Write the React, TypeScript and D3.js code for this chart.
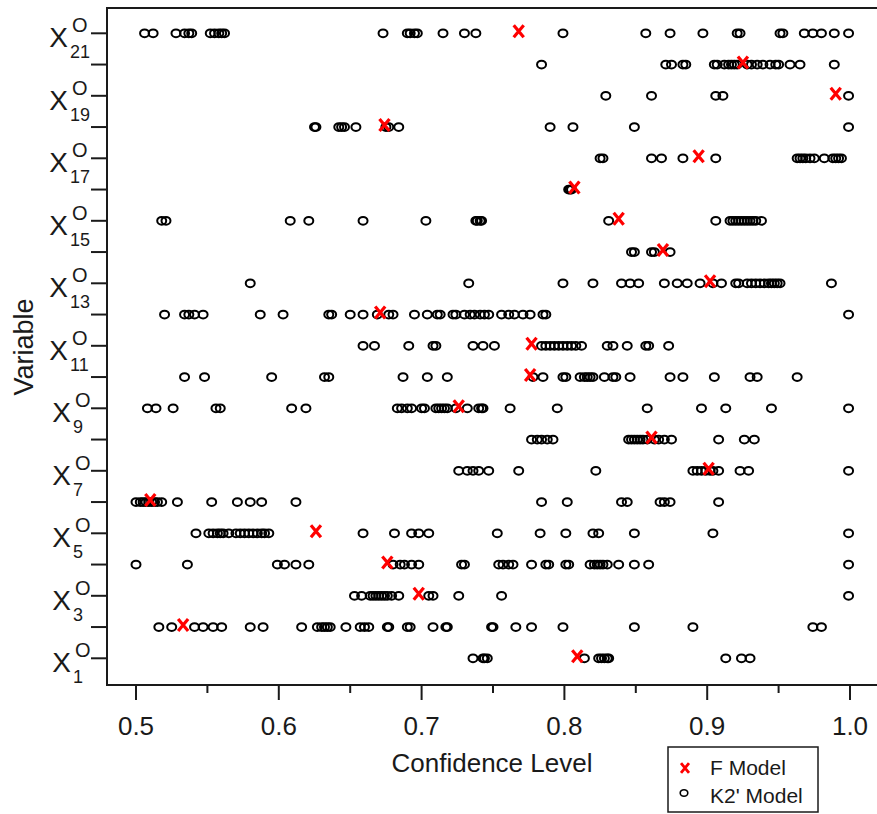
import React from 'react';
import * as d3 from 'd3';

// variables X1..X21, only odd ones carry a label
const variables = d3.range(1, 22);
const labelledVariables = variables.filter((v) => v % 2 === 1);

const xTicks = [0.5, 0.6, 0.7, 0.8, 0.9, 1.0];
const xMinorTicks = [0.55, 0.65, 0.75, 0.85, 0.95];

// F model confidence, one per variable (X1..X21)
const fModel = [
	0.809, 0.533, 0.698, 0.676, 0.626, 0.51, 0.901, 0.861, 0.726, 0.776, 0.777,
	0.671, 0.902, 0.869, 0.838, 0.807, 0.894, 0.674, 0.99, 0.925, 0.768,
];

// K2' model confidence levels, one list per variable (X1..X21)
const k2Model = [
	[0.736, 0.743, 0.744, 0.746, 0.814, 0.824, 0.826, 0.828, 0.83, 0.831, 0.913, 0.924, 0.93],
	[0.516, 0.525, 0.541, 0.547, 0.554, 0.56, 0.58, 0.589, 0.616, 0.627, 0.63, 0.632, 0.634, 0.636, 0.647, 0.657, 0.66, 0.663, 0.676, 0.677, 0.69, 0.692, 0.708, 0.717, 0.718, 0.749, 0.75, 0.766, 0.777, 0.799, 0.849, 0.89, 0.974, 0.98],
	[0.653, 0.658, 0.664, 0.666, 0.668, 0.67, 0.672, 0.674, 0.676, 0.679, 0.684, 0.705, 0.708, 0.726, 0.756, 0.999],
	[0.5, 0.536, 0.599, 0.604, 0.612, 0.621, 0.68, 0.685, 0.688, 0.693, 0.698, 0.728, 0.73, 0.754, 0.757, 0.761, 0.764, 0.777, 0.787, 0.789, 0.801, 0.803, 0.818, 0.821, 0.823, 0.825, 0.827, 0.83, 0.838, 0.849, 0.859, 0.999],
	[0.542, 0.551, 0.554, 0.557, 0.559, 0.561, 0.565, 0.57, 0.573, 0.576, 0.579, 0.582, 0.585, 0.588, 0.59, 0.593, 0.659, 0.681, 0.693, 0.698, 0.705, 0.753, 0.783, 0.801, 0.82, 0.824, 0.849, 0.904, 0.999],
	[0.5, 0.503, 0.505, 0.507, 0.509, 0.511, 0.513, 0.515, 0.518, 0.529, 0.553, 0.571, 0.58, 0.588, 0.612, 0.784, 0.802, 0.84, 0.844, 0.867, 0.87, 0.874, 0.908],
	[0.726, 0.732, 0.736, 0.74, 0.747, 0.768, 0.822, 0.89, 0.893, 0.896, 0.899, 0.902, 0.904, 0.908, 0.923, 0.929, 0.999],
	[0.777, 0.781, 0.784, 0.788, 0.792, 0.845, 0.847, 0.849, 0.851, 0.853, 0.855, 0.858, 0.863, 0.866, 0.87, 0.875, 0.908, 0.926, 0.933],
	[0.508, 0.514, 0.526, 0.556, 0.559, 0.609, 0.619, 0.683, 0.686, 0.69, 0.693, 0.7, 0.702, 0.71, 0.712, 0.714, 0.716, 0.718, 0.724, 0.732, 0.74, 0.742, 0.743, 0.762, 0.795, 0.858, 0.896, 0.913, 0.945, 0.999],
	[0.534, 0.548, 0.595, 0.632, 0.635, 0.687, 0.704, 0.718, 0.778, 0.785, 0.799, 0.801, 0.811, 0.814, 0.816, 0.818, 0.82, 0.828, 0.834, 0.836, 0.846, 0.874, 0.883, 0.905, 0.93, 0.935, 0.963],
	[0.659, 0.667, 0.691, 0.708, 0.71, 0.736, 0.743, 0.751, 0.784, 0.787, 0.79, 0.793, 0.796, 0.799, 0.802, 0.805, 0.808, 0.812, 0.83, 0.834, 0.844, 0.857, 0.859, 0.873],
	[0.52, 0.534, 0.537, 0.541, 0.547, 0.587, 0.603, 0.635, 0.637, 0.65, 0.659, 0.669, 0.677, 0.68, 0.695, 0.704, 0.711, 0.713, 0.722, 0.724, 0.73, 0.734, 0.737, 0.741, 0.744, 0.747, 0.756, 0.761, 0.765, 0.771, 0.776, 0.785, 0.787, 0.999],
	[0.58, 0.733, 0.799, 0.82, 0.84, 0.846, 0.852, 0.87, 0.879, 0.886, 0.895, 0.904, 0.91, 0.92, 0.922, 0.928, 0.931, 0.934, 0.937, 0.94, 0.943, 0.945, 0.947, 0.949, 0.951, 0.987],
	[0.847, 0.849, 0.861, 0.863, 0.874],
	[0.518, 0.521, 0.608, 0.621, 0.659, 0.703, 0.738, 0.739, 0.741, 0.742, 0.831, 0.906, 0.916, 0.918, 0.92, 0.922, 0.924, 0.926, 0.928, 0.93, 0.932, 0.934, 0.938],
	[0.803, 0.804, 0.805],
	[0.825, 0.827, 0.861, 0.868, 0.883, 0.906, 0.963, 0.965, 0.967, 0.969, 0.972, 0.975, 0.982, 0.988, 0.99, 0.992, 0.994],
	[0.625, 0.626, 0.642, 0.644, 0.646, 0.654, 0.675, 0.677, 0.684, 0.79, 0.806, 0.849, 0.999],
	[0.829, 0.861, 0.906, 0.911, 0.999],
	[0.784, 0.871, 0.875, 0.883, 0.885, 0.905, 0.907, 0.912, 0.915, 0.917, 0.919, 0.921, 0.928, 0.931, 0.935, 0.939, 0.944, 0.948, 0.95, 0.958, 0.965, 0.989],
	[0.506, 0.512, 0.528, 0.534, 0.537, 0.539, 0.552, 0.555, 0.558, 0.56, 0.562, 0.673, 0.69, 0.692, 0.695, 0.697, 0.715, 0.73, 0.738, 0.799, 0.857, 0.874, 0.897, 0.921, 0.923, 0.951, 0.953, 0.968, 0.974, 0.98, 0.989, 0.999],
];

const FONT = '"Liberation Sans", Arial, sans-serif';
const INK = '#1a1a1a';
const crossPath = 'M-5,-6L5,6M5,-6L-5,6';

const App = () => {
	const width = 877,
		height = 814,
		frame = { left: 107, right: 880, top: 8, bottom: 685 },
		x = d3.scaleLinear().domain([0.5, 1]).range([136, 850]),
		y = d3.scaleLinear().domain([1, 21]).range([658.3, 33.3]);

	const points = k2Model.flatMap((row, i) => row.map((v) => ({ v, variable: variables[i] })));

	return (
		<svg
			width={width}
			height={height}
			style={{ position: 'absolute', left: 0, top: 0, background: '#fff' }}
			fontFamily={FONT}
		>
			{/* frame */}
			<path
				d={`M${frame.right},${frame.top}H${frame.left}V${frame.bottom}H${frame.right}`}
				fill="none"
				stroke={INK}
				strokeWidth={2}
			/>

			{/* y ticks + labels */}
			{variables.map((v) => (
				<line key={v} x1={frame.left - 16} x2={frame.left} y1={y(v)} y2={y(v)} stroke={INK} strokeWidth={2} />
			))}
			{labelledVariables.map((v) => {
				const xEnd = v >= 10 ? 68 : 71;
				return (
					<g key={v} fill={INK}>
						<text x={xEnd} y={y(v) + 14} fontSize={28} textAnchor="end">X</text>
						<text x={xEnd + 4} y={y(v) - 1} fontSize={20}>O</text>
						<text x={xEnd + 2} y={y(v) + 25} fontSize={18}>{v}</text>
					</g>
				);
			})}
			<text transform={`translate(33,347) rotate(-90)`} textAnchor="middle" fontSize={27} fill={INK}>
				Variable
			</text>

			{/* x ticks + labels */}
			{xTicks.map((t) => (
				<g key={t}>
					<line x1={x(t)} x2={x(t)} y1={frame.bottom} y2={frame.bottom + 15} stroke={INK} strokeWidth={2} />
					<text x={x(t)} y={735} fontSize={26} textAnchor="middle" fill={INK}>
						{d3.format('.1f')(t)}
					</text>
				</g>
			))}
			{xMinorTicks.map((t) => (
				<line key={t} x1={x(t)} x2={x(t)} y1={frame.bottom} y2={frame.bottom + 8} stroke={INK} strokeWidth={2} />
			))}
			<text x={492} y={772} fontSize={26} textAnchor="middle" fill={INK}>
				Confidence Level
			</text>

			{/* K2' model points */}
			{points.map((p, i) => (
				<ellipse
					key={i}
					cx={x(p.v)}
					cy={y(p.variable)}
					rx={4.5}
					ry={3.9}
					fill="none"
					stroke="#000"
					strokeWidth={2}
				/>
			))}

			{/* F model points */}
			{fModel.map((v, i) => (
				<path
					key={i}
					d={crossPath}
					transform={`translate(${x(v)},${y(variables[i]) - 2})`}
					stroke="#ff0000"
					strokeWidth={3.2}
					fill="none"
				/>
			))}

			{/* legend */}
			<g>
				<rect x={668} y={747} width={150} height={65} fill="#fff" stroke={INK} strokeWidth={1.5} />
				<path d={crossPath} transform="translate(685,768) scale(0.8)" stroke="#ff0000" strokeWidth={3.5} fill="none" />
				<text x={710} y={775} fontSize={21} fill={INK}>F Model</text>
				<ellipse cx={684} cy={793} rx={3.8} ry={3.3} fill="none" stroke="#000" strokeWidth={1.6} />
				<text x={710} y={803} fontSize={21} fill={INK}>K2' Model</text>
			</g>
		</svg>
	);
};

export default App;
